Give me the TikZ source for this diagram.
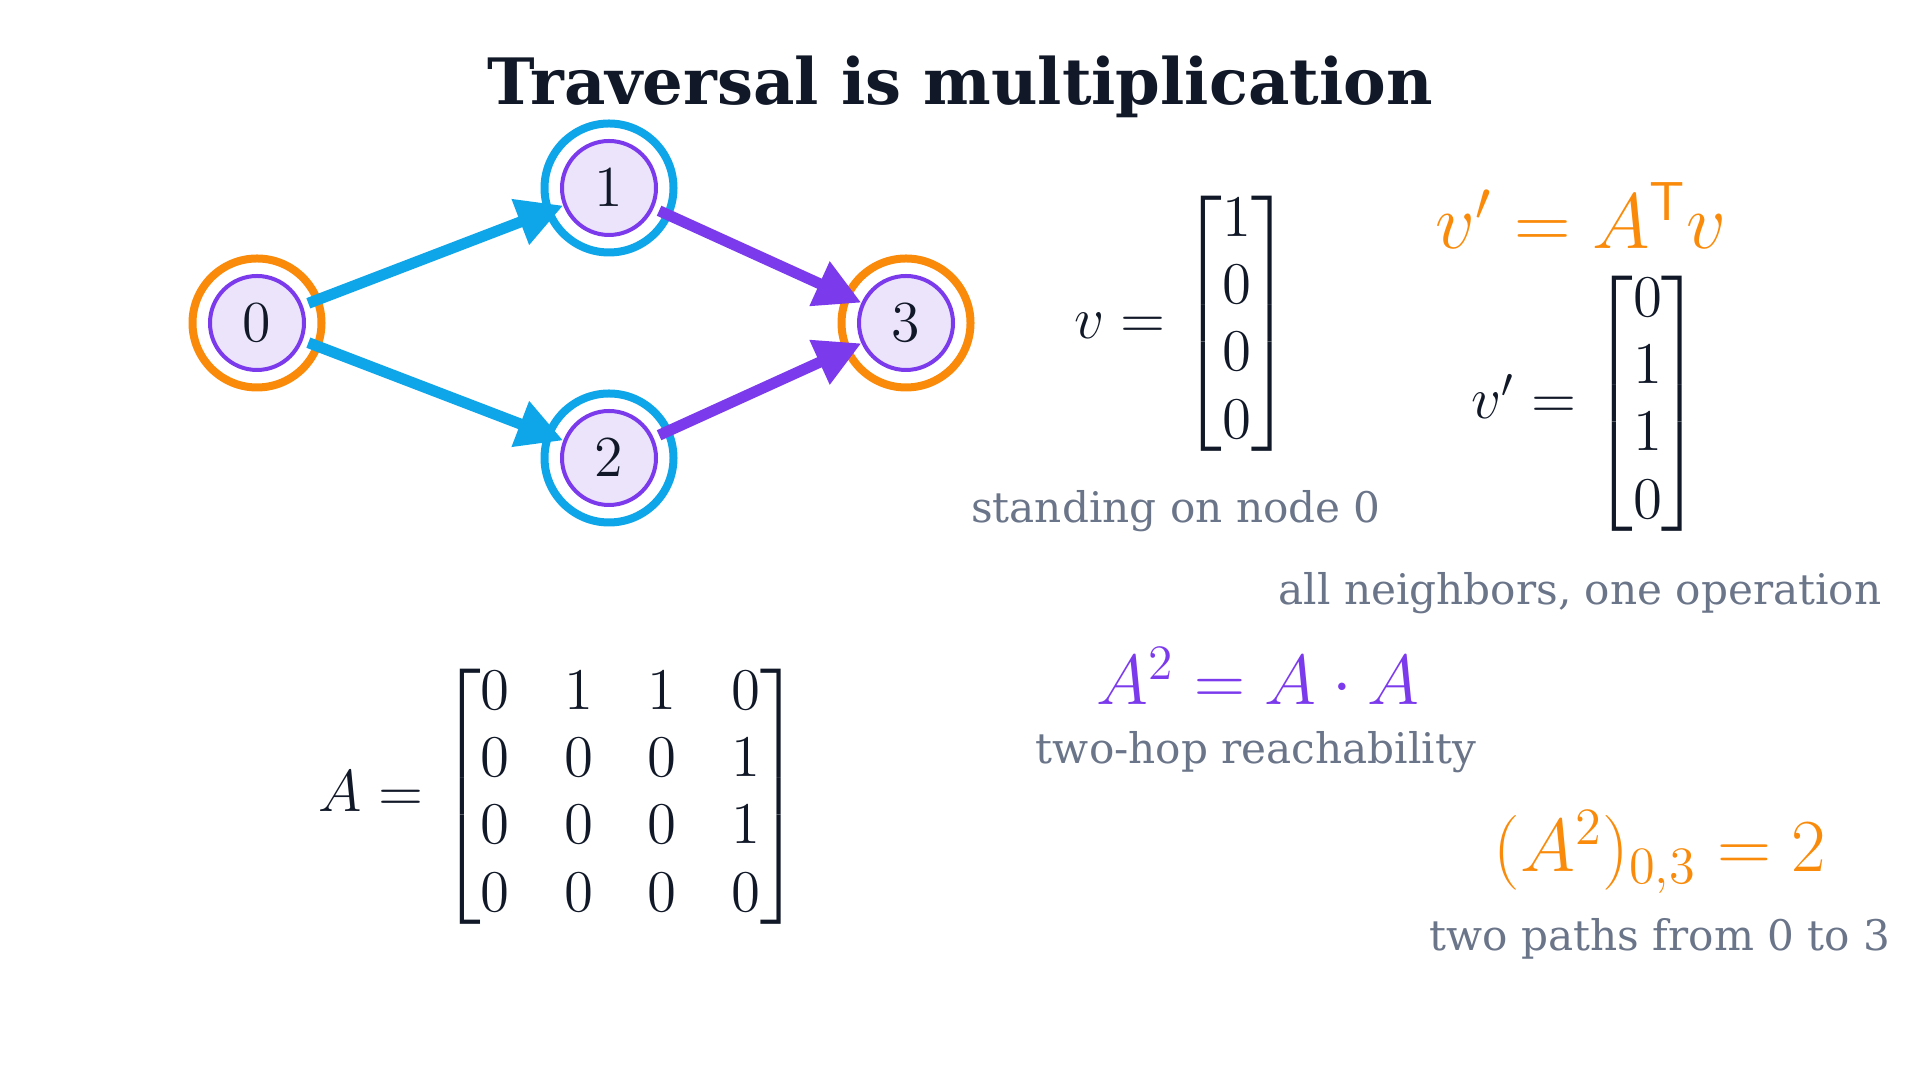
\documentclass[tikz,border=0pt]{standalone}
\usepackage{fix-cm}
\usepackage{amsmath}
\usepackage{fontspec}
\newfontfamily\labelfont{DejaVu Serif}
\usetikzlibrary{arrows.meta,positioning}
\definecolor{Ink}{HTML}{111827}
\definecolor{Slate}{HTML}{6B7589}
\definecolor{Sky}{HTML}{0EA5E9}
\definecolor{Violet}{HTML}{7C3AED}
\definecolor{Amber}{HTML}{F98A0A}
\definecolor{VertexFill}{HTML}{EBE4FB}
\tikzset{
  ring/.style={circle, draw=#1, line width=0.8mm, minimum size=12.9mm, inner sep=0pt},
  vertex/.style={circle, draw=Violet, fill=VertexFill, line width=0.4mm, minimum size=9.4mm,
    inner sep=0pt, text=Ink, font=\fontsize{16.5}{18}\selectfont},
  hop/.style={-{Triangle[length=4.6mm,width=4.6mm]}, draw=#1, fill=#1, line width=1.1mm,
    shorten <=0.6mm},
  heading/.style={font=\labelfont\bfseries\fontsize{18.2}{22}\selectfont, text=Ink, anchor=base},
  caption/.style={font=\labelfont\fontsize{12}{14}\selectfont, text=Slate, anchor=base},
  formula/.style={font=\fontsize{#1}{24}\selectfont, anchor=base},
  matrixeq/.style={font=\fontsize{16.8}{19.1}\selectfont, text=Ink, inner sep=0pt},
}

\begin{document}
\begin{tikzpicture}
  \useasboundingbox (0,0) rectangle (19.2,10.8);

  \node[heading] (title) at (9.60,9.75) {Traversal is multiplication};

  % Rings mark the start/end (orange) and the one-hop frontier (blue).
  \node[ring=Amber] (ring0) at (2.57,7.57) {};
  \node[ring=Sky]   (ring1) at (6.09,8.92) {};
  \node[ring=Sky]   (ring2) at (6.09,6.22) {};
  \node[ring=Amber] (ring3) at (9.06,7.57) {};
  \node[vertex] (n0) at (ring0) {$0$};
  \node[vertex] (n1) at (ring1) {$1$};
  \node[vertex] (n2) at (ring2) {$2$};
  \node[vertex] (n3) at (ring3) {$3$};

  \draw[hop=Sky] (n0) -- (n1);
  \draw[hop=Sky] (n0) -- (n2);
  \draw[hop=Violet] (n1) -- (n3);
  \draw[hop=Violet] (n2) -- (n3);

  % State vectors before and after one step.
  \node[matrixeq] (vvec) at (11.83,7.56)
    {$v = \begin{bmatrix} 1\\ 0\\ 0\\ 0 \end{bmatrix}$};
  \node[caption] (standing) at (11.76,5.57) {standing on node 0};
  \node[formula=22.3, text=Amber] (step) at (15.81,8.31) {$v' = A^{\mathsf{T}} v$};
  \node[matrixeq] (vnext) at (15.87,6.76)
    {$v' = \begin{bmatrix} 0\\ 1\\ 1\\ 0 \end{bmatrix}$};
  \node[caption] (neighbors) at (15.80,4.75) {all neighbors, one operation};

  % Adjacency matrix and its square.
  \node[matrixeq] (adj) at (5.60,2.83)
    {\setlength{\arraycolsep}{7.8pt}$A = \begin{bmatrix}
      0 & 1 & 1 & 0\\
      0 & 0 & 0 & 1\\
      0 & 0 & 0 & 1\\
      0 & 0 & 0 & 0 \end{bmatrix}$};
  \node[formula=20.1, text=Violet] (square) at (12.58,3.75) {$A^2 = A \cdot A$};
  \node[caption] (twohop) at (12.56,3.16) {two-hop reachability};
  \node[formula=21.3, text=Amber] (count) at (16.60,2.08) {$(A^2)_{0,3} = 2$};
  \node[caption] (paths) at (16.60,1.29) {two paths from 0 to 3};
\end{tikzpicture}
\end{document}
